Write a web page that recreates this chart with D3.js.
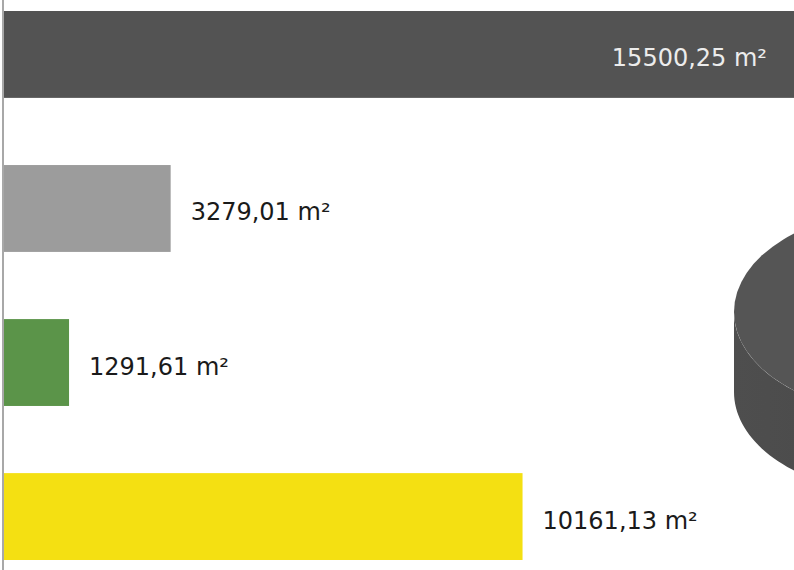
<!DOCTYPE html>
<html>
<head>
<meta charset="utf-8">
<script src="https://cdn.jsdelivr.net/npm/d3@7"></script>
<style>
  html, body { margin: 0; padding: 0; background: #ffffff; }
  svg { display: block; }
</style>
</head>
<body>
<svg id="chart" width="794" height="570"></svg>
<script>
// Floor areas per zone, in square metres
const categories = ["Gesamt", "Grau", "Grün", "Gelb"];
const areas = [15500.25, 3279.01, 1291.61, 10161.13];
const barColors = ["#535353", "#9c9c9c", "#5b9449", "#f4e012"];
const unit = "m²";

const W = 794, H = 570;
const svg = d3.select("#chart");

// Value axis: 0 sits on the left rule, bars longer than the view are clipped
const x = d3.scaleLinear().domain([0, 10000]).range([3, 3 + 511.3]);
const y = d3.scaleBand().domain(categories).range([11, 560]).paddingInner(0.436).paddingOuter(0);

const fmt = d3.formatLocale({ decimal: ",", thousands: "", grouping: [3], currency: ["", ""] }).format(".2f");

// Partly visible 3D disc on the right
(function drawDisc() {
  const cx = 900, cy = 312, rx = 166, ry = 102, depth = 80;
  const g = svg.append("g");
  const grad = svg.append("defs").append("linearGradient")
    .attr("id", "discSide").attr("x1", "0").attr("x2", "1").attr("y1", "0").attr("y2", "0");
  grad.append("stop").attr("offset", "0").attr("stop-color", "#4e4e4e");
  grad.append("stop").attr("offset", "1").attr("stop-color", "#444444");

  // side wall: lower half of the bottom rim, then back along the top rim
  const n = 80;
  let dSide = `M${cx - rx},${cy}`;
  for (let i = 0; i <= n; i++) {
    const t = Math.PI - (Math.PI * i) / n;
    dSide += ` L${cx + rx * Math.cos(t)},${cy + depth + ry * Math.sin(t)}`;
  }
  for (let i = 0; i <= n; i++) {
    const t = (Math.PI * i) / n;
    dSide += ` L${cx + rx * Math.cos(t)},${cy + ry * Math.sin(t)}`;
  }
  dSide += " Z";
  g.append("path").attr("d", dSide).attr("fill", "url(#discSide)");
  g.append("ellipse")
    .attr("cx", cx).attr("cy", cy).attr("rx", rx).attr("ry", ry)
    .attr("fill", "#555555");
})();

// Left rule
svg.append("line")
  .attr("x1", 3).attr("x2", 3).attr("y1", 0).attr("y2", H)
  .attr("stroke", "#a8a8a8").attr("stroke-width", 2);

const rows = categories.map((c, i) => ({ c, v: areas[i], color: barColors[i], i }));

svg.append("g").selectAll("rect").data(rows).join("rect")
  .attr("x", x(0) + 1)
  .attr("y", d => y(d.c))
  .attr("width", d => x(d.v) - x(0) - 1)
  .attr("height", y.bandwidth())
  .attr("fill", d => d.color);

// Value labels: inside the bar when it runs past the view, otherwise after its end
svg.append("g").selectAll("text").data(rows).join("text")
  .attr("font-family", "'DejaVu Sans', sans-serif")
  .attr("font-size", 24)
  .attr("y", d => y(d.c) + y.bandwidth() / 2 + 12)
  .attr("x", d => x(d.v) > W ? W - 27 : x(d.v) + 20)
  .attr("text-anchor", d => x(d.v) > W ? "end" : "start")
  .attr("fill", d => x(d.v) > W ? "#ececec" : "#1a1a1a")
  .text(d => `${fmt(d.v)} ${unit}`);
</script>
</body>
</html>
